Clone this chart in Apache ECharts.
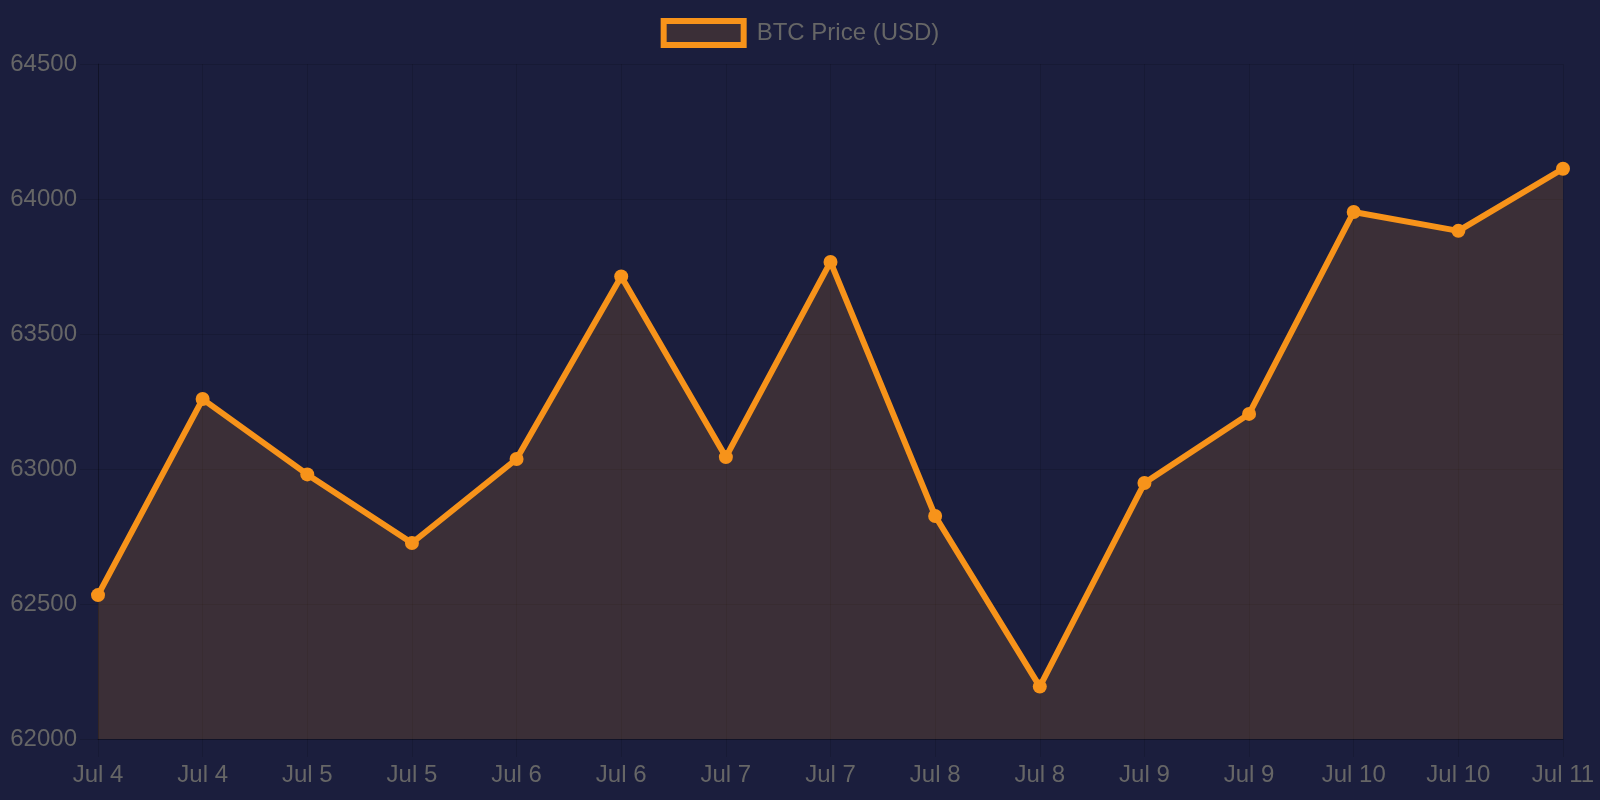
<!DOCTYPE html>
<html>
<head>
<meta charset="utf-8">
<script src="https://cdn.jsdelivr.net/npm/echarts@6/dist/echarts.min.js"></script>
<style>
html,body{margin:0;padding:0;background:#1b1e3d;}
#c{width:1600px;height:800px;}
</style>
</head>
<body>
<div id="c"></div>
<script>
const categories = ['Jul 4','Jul 4','Jul 5','Jul 5','Jul 6','Jul 6','Jul 7','Jul 7','Jul 8','Jul 8','Jul 9','Jul 9','Jul 10','Jul 10','Jul 11'];
const btcPrice = [62533, 63259, 62980, 62726, 63037, 63713, 63044, 63767, 62826, 62194, 62948, 63204, 63952, 63882, 64112];
const seriesName = 'BTC Price (USD)';
const yMin = 62000, yMax = 64500, yStep = 500;

const FONT = "'Liberation Sans', Arial, sans-serif";
const gridColor = 'rgba(0,0,0,0.12)';
const chart = echarts.init(document.getElementById('c'), null, {renderer:'canvas'});
chart.setOption({
  backgroundColor: '#1b1e3d',
  animation: false,
  legend: {
    top: 13,
    left: 'center',
    icon: 'rect',
    itemWidth: 80,
    itemHeight: 24,
    itemStyle: {color: 'rgba(247,147,26,0.15)', borderColor: '#f7931a', borderWidth: 6, opacity: 1},
    textStyle: {color: '#666', fontSize: 24, fontFamily: FONT, padding: [0,0,0,8]},
    data: [seriesName]
  },
  grid: {left: 98, right: 37, top: 64, bottom: 61, containLabel: false},
  xAxis: {
    type: 'category',
    data: categories,
    boundaryGap: false,
    axisLine: {show: true, lineStyle: {color: 'rgba(0,0,0,0.25)', width: 1}},
    axisTick: {show: true, length: 18, lineStyle: {color: gridColor}},
    splitLine: {show: true, lineStyle: {color: gridColor, width: 1}},
    axisLabel: {color: '#666', fontSize: 24, fontFamily: FONT, margin: 24, interval: 0}
  },
  yAxis: {
    type: 'value',
    min: yMin, max: yMax, interval: yStep,
    axisLine: {show: true, lineStyle: {color: 'rgba(0,0,0,0.25)', width: 1}},
    axisTick: {show: true, length: 18, lineStyle: {color: gridColor}},
    splitLine: {show: true, lineStyle: {color: gridColor, width: 1}},
    axisLabel: {color: '#666', fontSize: 24, fontFamily: FONT, margin: 21, formatter: v => String(v)}
  },
  series: [{
    name: seriesName,
    type: 'line',
    data: btcPrice,
    symbol: 'circle',
    symbolSize: 14,
    showAllSymbol: true,
    lineStyle: {color: '#f7931a', width: 6},
    itemStyle: {color: '#f7931a', borderWidth: 0},
    areaStyle: {color: 'rgba(247,147,26,0.15)', opacity: 1, origin: 'start'}
  }]
});
</script>
</body>
</html>
